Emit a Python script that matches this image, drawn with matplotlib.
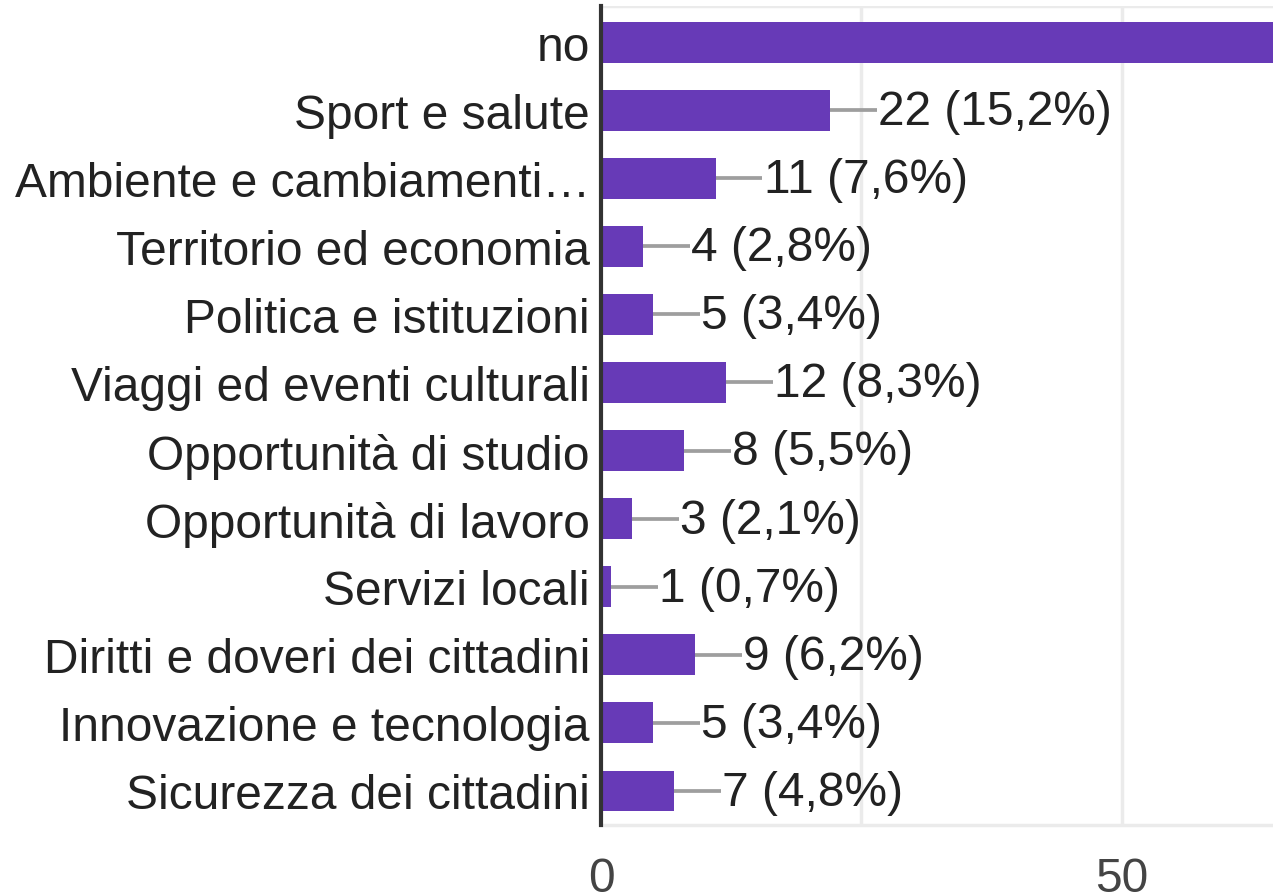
import matplotlib.pyplot as plt

plt.rcParams['font.family'] = ['Liberation Sans', 'DejaVu Sans']

categories = ["no", "Sport e salute", "Ambiente e cambiamenti…", "Territorio ed economia",
              "Politica e istituzioni", "Viaggi ed eventi culturali", "Opportunità di studio",
              "Opportunità di lavoro", "Servizi locali", "Diritti e doveri dei cittadini",
              "Innovazione e tecnologia", "Sicurezza dei cittadini"]
counts = [70, 22, 11, 4, 5, 12, 8, 3, 1, 9, 5, 7]
percents = ["48,3%", "15,2%", "7,6%", "2,8%", "3,4%", "8,3%", "5,5%", "2,1%", "0,7%", "6,2%", "3,4%", "4,8%"]
ticks = [0, 50]

fig = plt.figure(figsize=(12.73, 8.95), dpi=100)
ax = fig.add_axes([601 / 1273, 1 - 826 / 895, 1 - 601 / 1273, (826 - 7) / 895])

ypos = list(range(len(categories)))
ax.barh(ypos, counts, height=0.6, color="#673ab7", zorder=3)

# leader lines and value labels
for y, c, p in zip(ypos, counts, percents):
    ax.plot([c, c + 4.5], [y, y], color="#9e9e9e", lw=2.7, zorder=2, solid_capstyle="butt")
    ax.text(c + 4.6, y + 0.02, f"{c} ({p})", va="center", ha="left", fontsize=34.5,
            color="#222222", clip_on=True)

for gx in [25, 50]:
    ax.axvline(gx, color="#ebebeb", lw=2.5, zorder=0)
ax.axhline(-0.53, color="#ebebeb", lw=2.5, zorder=0)

ax.set_xlim(0, 64.5)
ax.set_ylim(11.5, -0.53)

ax.set_yticks(ypos)
ax.set_yticklabels(categories, fontsize=34.5, color="#222222")
ax.set_xticks(ticks)
ax.set_xticklabels([str(t) for t in ticks], fontsize=34.5, color="#444444")
ax.tick_params(axis="y", length=0, pad=8)
ax.tick_params(axis="x", length=0, pad=22)

for side in ["top", "right"]:
    ax.spines[side].set_visible(False)
ax.spines["bottom"].set_color("#ebebeb")
ax.spines["bottom"].set_linewidth(2.5)
ax.spines["left"].set_color("#333333")
ax.spines["left"].set_linewidth(3)
ax.spines["left"].set_zorder(4)

fig.savefig("out.png", dpi=100)
